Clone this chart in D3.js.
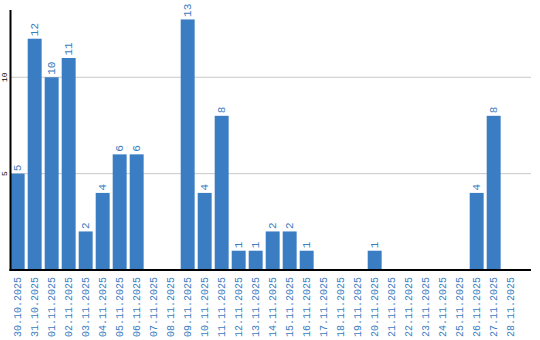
<!DOCTYPE html>
<html>
<head>
<meta charset="utf-8">
<script src="https://cdn.jsdelivr.net/npm/d3@7"></script>
<style>
body { margin: 0; background: #fff; }
text { font-family: "Liberation Mono", "DejaVu Sans Mono", monospace; }
</style>
</head>
<body>
<div id="chart"></div>
<script>
// daily counts
var days = ["30.10.2025","31.10.2025","01.11.2025","02.11.2025","03.11.2025","04.11.2025",
	"05.11.2025","06.11.2025","07.11.2025","08.11.2025","09.11.2025","10.11.2025",
	"11.11.2025","12.11.2025","13.11.2025","14.11.2025","15.11.2025","16.11.2025",
	"17.11.2025","18.11.2025","19.11.2025","20.11.2025","21.11.2025","22.11.2025",
	"23.11.2025","24.11.2025","25.11.2025","26.11.2025","27.11.2025","28.11.2025"];
var counts = [5,12,10,11,2,4,6,6,0,0,13,4,8,1,1,2,2,1,0,0,0,1,0,0,0,0,0,4,8,0];
var yTicks = [5, 10];

var width = 540, height = 340;
var plotLeft = 10.5, plotRight = 531, plotTop = 10, plotBottom = 270;
var barColor = "#3a7dc2";

var svg = d3.select("#chart").append("svg")
	.attr("width", width)
	.attr("height", height);

var x = d3.scaleBand()
	.domain(days)
	.range([10.7, 10.7 + 17 * 29.82])
	.paddingInner(0.18)
	.paddingOuter(0);

var y = d3.scaleLinear()
	.domain([0, 13.49])
	.range([plotBottom, plotTop]);

// grid
svg.append("g").selectAll("line")
	.data(yTicks).enter()
	.append("line")
	.attr("x1", plotLeft)
	.attr("x2", plotRight)
	.attr("y1", function(d) {return y(d);})
	.attr("y2", function(d) {return y(d);})
	.style("stroke", "#c8c8c8")
	.style("stroke-width", 1);

// y tick labels
svg.append("g").selectAll("text")
	.data(yTicks).enter()
	.append("text")
	.attr("transform", function(d) {return "translate(7," + y(d) + ") rotate(-90)";})
	.attr("text-anchor", "middle")
	.style("font-size", "8px")
	.style("fill", "#000")
	.text(function(d) {return d;});

// bars
svg.append("g").selectAll("rect")
	.data(counts).enter()
	.append("rect")
	.attr("x", function(d, i) {return x(days[i]);})
	.attr("y", function(d) {return y(d);})
	.attr("width", x.bandwidth())
	.attr("height", function(d) {return plotBottom - y(d);})
	.style("fill", barColor);

// value labels (skip zeros)
var labelled = counts.map(function(d, i) {return {v: d, day: days[i]};})
	.filter(function(d) {return d.v > 0;});

svg.append("g").selectAll("text")
	.data(labelled).enter()
	.append("text")
	.attr("transform", function(d) {
		return "translate(" + (x(d.day) + x.bandwidth() / 2 + 3.5) + "," + (y(d.v) - 2.5) + ") rotate(-90)";
	})
	.attr("text-anchor", "start")
	.style("font-size", "11px")
	.style("fill", barColor)
	.text(function(d) {return d.v;});

// axes lines
svg.append("line")
	.attr("x1", plotLeft).attr("x2", plotLeft)
	.attr("y1", plotTop).attr("y2", plotBottom + 1)
	.style("stroke", "#000").style("stroke-width", 2);
svg.append("line")
	.attr("x1", plotLeft - 1).attr("x2", plotRight)
	.attr("y1", plotBottom).attr("y2", plotBottom)
	.style("stroke", "#000").style("stroke-width", 2);

// x labels
svg.append("g").selectAll("text")
	.data(days).enter()
	.append("text")
	.attr("transform", function(d) {
		return "translate(" + (x(d) + x.bandwidth() / 2 + 3.5) + ",277) rotate(-90)";
	})
	.attr("text-anchor", "end")
	.style("font-size", "10px")
	.style("fill", barColor)
	.text(function(d) {return d;});
</script>
</body>
</html>
